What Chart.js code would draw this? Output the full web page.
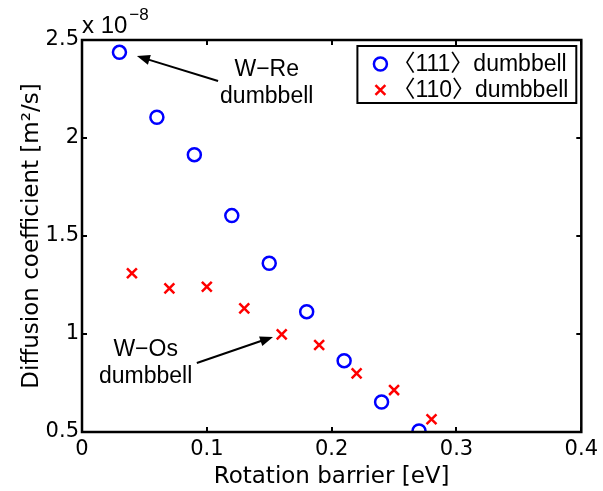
<!DOCTYPE html>
<html><head><meta charset="utf-8">
<script src="https://cdn.jsdelivr.net/npm/chart.js@4/dist/chart.umd.min.js"></script>
<style>html,body{margin:0;padding:0;background:#fff}#wrap{width:603px;height:491px}</style>
</head><body><div id="wrap"><canvas id="c" width="603" height="491"></canvas></div>
<script>
// ---- data ----
const barrier111 = [0.03, 0.06, 0.09, 0.12, 0.15, 0.18, 0.21, 0.24, 0.27];
const diff111    = [2.437, 2.106, 1.915, 1.604, 1.361, 1.114, 0.864, 0.653, 0.505];
const barrier110 = [0.04, 0.07, 0.10, 0.13, 0.16, 0.19, 0.22, 0.25, 0.28];
const diff110    = [1.310, 1.233, 1.241, 1.131, 0.998, 0.944, 0.799, 0.714, 0.565];
const xTickValues = [0, 0.1, 0.2, 0.3, 0.4];
const xTickLabels = ['0', '0.1', '0.2', '0.3', '0.4'];
const yTickValues = [0.5, 1, 1.5, 2, 2.5];
const yTickLabels = ['0.5', '1', '1.5', '2', '2.5'];
const seriesLabels = ['\u3008111\u3009dumbbell', '\u3008110\u3009dumbbell'];
const xTitle = 'Rotation barrier [eV]';
const yTitle = 'Diffusion coefficient [m\u00B2/s]';
const exponentBase = 'x 10';
const exponentPow = '\u22128';
const noteRe = ['W\u2212Re', 'dumbbell'];
const noteOs = ['W\u2212Os', 'dumbbell'];

const FONT = "'DejaVu Sans', 'Liberation Sans', sans-serif";
const FONT2 = "'Liberation Sans', 'Noto Sans CJK JP', sans-serif";

const toPts = (xs, ys) => xs.map((x, i) => ({x: x, y: ys[i]}));

const decorPlugin = {
  id: 'decor',
  afterDraw(chart) {
    const ctx = chart.ctx;
    const ca = chart.chartArea;
    const xs = chart.scales.x, ys = chart.scales.y;
    ctx.save();
    // inner ticks on all four sides
    ctx.strokeStyle = '#000';
    ctx.lineWidth = 2;
    const tl = 5;
    xTickValues.forEach(v => {
      const px = Math.round(xs.getPixelForValue(v));
      ctx.beginPath();
      ctx.moveTo(px, ca.bottom); ctx.lineTo(px, ca.bottom - tl);
      ctx.moveTo(px, ca.top); ctx.lineTo(px, ca.top + tl);
      ctx.stroke();
    });
    yTickValues.forEach(v => {
      const py = Math.round(ys.getPixelForValue(v));
      ctx.beginPath();
      ctx.moveTo(ca.left, py); ctx.lineTo(ca.left + tl, py);
      ctx.moveTo(ca.right, py); ctx.lineTo(ca.right - tl, py);
      ctx.stroke();
    });
    // box
    ctx.lineWidth = 2.5;
    ctx.strokeRect(ca.left, ca.top, ca.right - ca.left, ca.bottom - ca.top);

    // exponent label
    ctx.fillStyle = '#000';
    ctx.textBaseline = 'alphabetic';
    ctx.textAlign = 'left';
    ctx.font = '24px ' + FONT2;
    ctx.fillText(exponentBase, ca.left, ca.top - 7);
    const w = ctx.measureText(exponentBase).width;
    ctx.font = '17px ' + FONT2;
    ctx.fillText(exponentPow, ca.left + w + 2, ca.top - 20);

    // annotations
    const arrow = (x0, y0, x1, y1) => {
      const ax = xs.getPixelForValue(x0), ay = ys.getPixelForValue(y0);
      const bx = xs.getPixelForValue(x1), by = ys.getPixelForValue(y1);
      const ang = Math.atan2(by - ay, bx - ax);
      const hl = 13, hw = 5;
      ctx.strokeStyle = '#000';
      ctx.lineWidth = 2;
      ctx.beginPath();
      ctx.moveTo(ax, ay);
      ctx.lineTo(bx - Math.cos(ang) * hl * 0.8, by - Math.sin(ang) * hl * 0.8);
      ctx.stroke();
      ctx.fillStyle = '#000';
      ctx.beginPath();
      ctx.moveTo(bx, by);
      ctx.lineTo(bx - Math.cos(ang) * hl - Math.sin(ang) * hw, by - Math.sin(ang) * hl + Math.cos(ang) * hw);
      ctx.lineTo(bx - Math.cos(ang) * hl + Math.sin(ang) * hw, by - Math.sin(ang) * hl - Math.cos(ang) * hw);
      ctx.closePath();
      ctx.fill();
    };
    const note = (lines, x, y) => {
      ctx.fillStyle = '#000';
      ctx.font = '23px ' + FONT2;
      ctx.textAlign = 'center';
      ctx.textBaseline = 'middle';
      const px = xs.getPixelForValue(x), py = ys.getPixelForValue(y);
      lines.forEach((t, i) => ctx.fillText(t, px, py + i * 27));
    };
    note(noteRe, 0.148, 2.347);
    arrow(0.109, 2.291, 0.044, 2.418);
    note(noteOs, 0.051, 0.918);
    arrow(0.092, 0.852, 0.153, 0.985);

    // legend
    ctx.font = '23px ' + FONT2;
    ctx.textAlign = 'left';
    ctx.textBaseline = 'middle';
    const ms = seriesLabels.map(s => ctx.measureText(s));
    const lead = Math.max(...ms.map(m => m.actualBoundingBoxLeft));
    const inkW = Math.max(...ms.map(m => m.actualBoundingBoxRight + m.actualBoundingBoxLeft));
    const bw = 48 + inkW + 9, bh = 57;
    const bx = ca.right - 5 - bw, by = ca.top + 6;
    ctx.fillStyle = '#fff';
    ctx.fillRect(bx, by, bw, bh);
    ctx.strokeStyle = '#000';
    ctx.lineWidth = 2;
    ctx.strokeRect(bx, by, bw, bh);
    chart.data.datasets.forEach((ds, i) => {
      const cy = by + 18 + i * 26;
      const mx = bx + 23;
      ctx.strokeStyle = ds.borderColor;
      ctx.lineWidth = ds.borderWidth;
      ctx.beginPath();
      if (ds.pointStyle === 'circle') {
        ctx.arc(mx, cy, ds.pointRadius, 0, Math.PI * 2);
      } else {
        const d = ds.pointRadius * Math.SQRT1_2;
        ctx.moveTo(mx - d, cy - d); ctx.lineTo(mx + d, cy + d);
        ctx.moveTo(mx - d, cy + d); ctx.lineTo(mx + d, cy - d);
      }
      ctx.stroke();
      ctx.fillStyle = '#000';
      ctx.fillText(ds.label, bx + 48 + lead, cy + 1);
    });
    ctx.restore();
  }
};

new Chart(document.getElementById('c'), {
  type: 'scatter',
  data: {
    datasets: [
      { label: seriesLabels[0], data: toPts(barrier111, diff111), pointStyle: 'circle',
        pointRadius: 6.5, pointHoverRadius: 6.5, borderColor: '#0000ff', backgroundColor: 'rgba(0,0,0,0)', borderWidth: 2.5 },
      { label: seriesLabels[1], data: toPts(barrier110, diff110), pointStyle: 'crossRot',
        pointRadius: 7, pointHoverRadius: 7, borderColor: '#ff0000', backgroundColor: '#ff0000', borderWidth: 2.5 }
    ]
  },
  options: {
    responsive: false,
    animation: false,
    devicePixelRatio: 1,
    layout: { padding: { top: 40, right: 19, left: 0, bottom: 0 } },
    plugins: { legend: { display: false }, tooltip: { enabled: false } },
    scales: {
      x: {
        type: 'linear', min: 0, max: 0.4,
        afterFit: s => { s.height = 59; },
        afterBuildTicks: s => { s.ticks = xTickValues.map(v => ({value: v})); },
        ticks: { callback: (v) => xTickLabels[xTickValues.indexOf(+v.toFixed(2))] ?? '', color: '#000',
                 font: { family: FONT, size: 21 }, padding: 5, maxRotation: 0, autoSkip: false },
        grid: { display: false, drawTicks: false },
        border: { display: false },
        title: { display: true, text: xTitle, color: '#000', font: { family: FONT, size: 23 }, padding: { top: 0, bottom: 0 } }
      },
      y: {
        type: 'linear', min: 0.5, max: 2.5,
        afterFit: s => { s.width = 82; },
        afterBuildTicks: s => { s.ticks = yTickValues.map(v => ({value: v})); },
        ticks: { callback: (v) => yTickLabels[yTickValues.indexOf(+v.toFixed(2))] ?? '', color: '#000',
                 font: { family: FONT, size: 21 }, padding: 3, autoSkip: false },
        grid: { display: false, drawTicks: false },
        border: { display: false },
        title: { display: true, text: yTitle, color: '#000', font: { family: FONT, size: 23 }, padding: { top: 18, bottom: 0 } }
      }
    }
  },
  plugins: [decorPlugin]
});
</script>
</body></html>
